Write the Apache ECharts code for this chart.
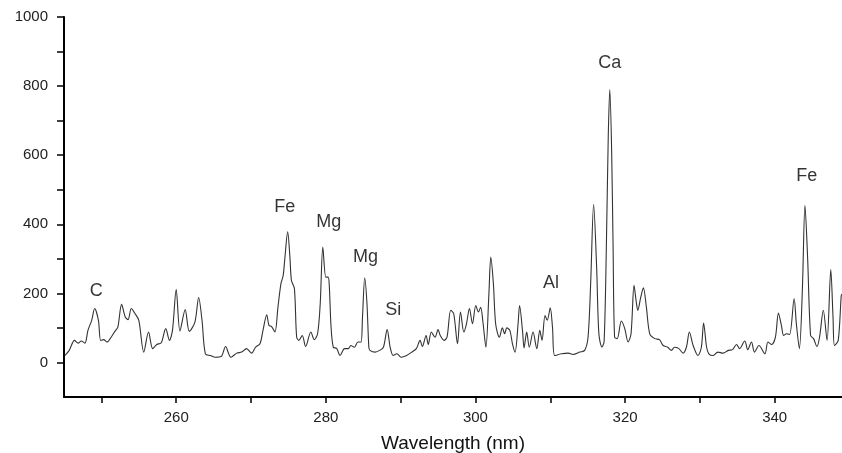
<!DOCTYPE html>
<html>
<head>
<meta charset="utf-8">
<title>Spectrum</title>
<script src="https://cdn.jsdelivr.net/npm/echarts@6/dist/echarts.min.js"></script>
<style>
  html, body { margin: 0; padding: 0; background: #fff; }
  #chart { width: 842px; height: 453px; }
</style>
</head>
<body>
<div id="chart"></div>
<script>
// wavelength (nm) and intensity
const wavelengths = [
  245.1, 245.7, 246.4, 246.9, 247.3, 247.8, 248.2, 248.7, 249.1, 249.6,
  249.9, 250.3, 250.75, 251.3, 251.9, 252.2, 252.7, 253.2, 253.56, 254.0,
  254.45, 255.0, 255.66, 256.3, 256.86, 257.4, 258.0, 258.6, 259.1, 259.5,
  260.0, 260.5, 261.2, 261.75, 262.5, 263.0, 263.45, 263.9, 264.6, 265.2,
  266.0, 266.6, 267.3, 268.1, 268.75, 269.4, 270.1, 270.6, 271.2, 271.6,
  272.1, 272.4, 272.75, 273.2, 273.6, 274.0, 274.3, 274.5, 274.9, 275.2,
  275.4, 275.8, 276.1, 276.4, 276.85, 277.3, 278.0, 278.45, 278.9, 279.25,
  279.6, 280.0, 280.3, 280.45, 280.7, 281.0, 281.45, 281.9, 282.5, 283.0,
  283.35, 283.8, 284.3, 284.7, 284.9, 285.2, 285.5, 285.75, 285.9, 286.6,
  287.2, 287.7, 288.2, 288.6, 289.0, 289.5, 290.1, 290.8, 291.5, 292.1,
  292.6, 292.9, 293.4, 293.7, 294.1, 294.6, 295.0, 295.3, 295.8, 296.2,
  296.7, 297.1, 297.6, 298.0, 298.45, 298.8, 299.2, 299.6, 300.05, 300.4,
  300.7, 301.0, 301.4, 301.8, 302.05, 302.4, 302.7, 303.2, 303.6, 303.9,
  304.2, 304.6, 304.95, 305.3, 305.7, 305.9, 306.3, 306.5, 306.85, 307.2,
  307.7, 308.2, 308.6, 308.9, 309.3, 309.6, 310.0, 310.3, 310.6, 311.5,
  312.4, 313.05, 313.95, 314.6, 315.05, 315.4, 315.8, 316.2, 316.5, 316.9,
  317.2, 317.5, 317.75, 317.96, 318.2, 318.4, 318.6, 318.95, 319.5, 319.96,
  320.4, 320.8, 321.2, 321.5, 321.7, 322.1, 322.45, 322.85, 323.3, 323.97,
  324.6, 325.1, 325.7, 326.2, 326.6, 327.2, 327.75, 328.2, 328.6, 329.1,
  329.75, 330.2, 330.5, 330.9, 331.2, 331.75, 332.4, 333.1, 333.8, 334.35,
  334.9, 335.3, 336.0, 336.4, 336.9, 337.3, 337.9, 338.7, 339.1, 339.6,
  340.1, 340.5, 340.9, 341.2, 341.6, 342.0, 342.6, 342.9, 343.3, 343.7,
  344.05, 344.4, 344.8, 345.2, 345.65, 346.0, 346.5, 347.0, 347.5, 347.8,
  348.0, 348.5, 348.9, 349.0
];
const intensity = [
  20, 35, 64, 56, 62, 56, 93, 122, 156, 122,
  64, 66, 59, 73, 93, 102, 168, 131, 124, 156,
  143, 122, 30, 88, 40, 52, 57, 98, 64, 93,
  211, 91, 153, 90, 117, 188, 122, 25, 20, 15,
  17, 46, 15, 27, 30, 40, 27, 44, 54, 93,
  138, 107, 104, 88, 160, 228, 252, 296, 378, 305,
  238, 214, 73, 64, 78, 46, 88, 66, 83, 170,
  334, 247, 247, 228, 102, 44, 41, 20, 40, 40,
  49, 44, 59, 59, 131, 245, 170, 44, 35, 30,
  35, 44, 95, 44, 20, 25, 15, 20, 30, 40,
  64, 46, 78, 52, 88, 73, 95, 78, 64, 73,
  151, 141, 54, 146, 88, 112, 156, 112, 165, 146,
  160, 117, 44, 199, 305, 228, 112, 73, 100, 83,
  100, 93, 54, 30, 112, 165, 90, 42, 88, 44,
  88, 40, 93, 64, 136, 122, 158, 102, 20, 25,
  27, 23, 30, 35, 73, 228, 458, 276, 83, 45,
  60, 334, 650, 790, 620, 334, 73, 69, 120, 98,
  59, 83, 223, 175, 151, 189, 216, 160, 83, 69,
  66, 49, 44, 35, 44, 40, 27, 44, 88, 49,
  20, 44, 114, 44, 25, 20, 30, 27, 35, 37,
  52, 40, 62, 37, 59, 30, 49, 25, 59, 52,
  73, 143, 107, 78, 83, 81, 185, 112, 40, 209,
  455, 305, 78, 69, 46, 73, 151, 64, 269, 131,
  49, 64, 194, 198
];

// element labels placed above their peaks
const peakNames = ['C', 'Fe', 'Mg', 'Mg', 'Si', 'Al', 'Ca', 'Fe'];
const peakLabelX = [249.3, 274.5, 280.4, 285.3, 289.0, 310.1, 317.96, 344.3];
const peakLabelY = [207, 449, 407, 305, 153, 230, 866, 539];

const xTicks = [250, 260, 270, 280, 290, 300, 310, 320, 330, 340];
const xTickLabels = [260, 280, 300, 320, 340];
const yTicks = [0, 100, 200, 300, 400, 500, 600, 700, 800, 900, 1000];
const yTickLabels = [0, 200, 400, 600, 800, 1000];

const chart = echarts.init(document.getElementById('chart'));

const font = 'Liberation Sans, Arial, sans-serif';

const option = {
  animation: false,
  backgroundColor: '#fff',
  grid: { left: 64, right: 0, top: 17, bottom: 56, outerBoundsMode: 'none', containLabel: false },
  xAxis: {
    type: 'value',
    min: 245,
    max: 349,
    name: 'Wavelength (nm)',
    nameLocation: 'middle',
    nameGap: 37,
    nameTextStyle: { color: '#111', fontFamily: font, fontSize: 19 },
    axisLine: { onZero: false, lineStyle: { color: '#000', width: 2 } },
    axisTick: {
      customValues: xTicks,
      length: 6,
      lineStyle: { color: '#000', width: 1.5 }
    },
    axisLabel: {
      customValues: xTickLabels,
      margin: 13,
      color: '#222',
      fontFamily: font,
      fontSize: 15,
      formatter: v => String(v)
    },
    splitLine: { show: false }
  },
  yAxis: {
    type: 'value',
    min: -100,
    max: 1000,
    axisLine: { show: true, onZero: false, lineStyle: { color: '#000', width: 2 } },
    axisTick: {
      show: true,
      customValues: yTicks,
      length: 7,
      lineStyle: { color: '#000', width: 1.5 }
    },
    axisLabel: {
      customValues: yTickLabels,
      margin: 16,
      color: '#222',
      fontFamily: font,
      fontSize: 15,
      formatter: v => String(v)
    },
    splitLine: { show: false }
  },
  series: [
    {
      name: 'Spectrum',
      type: 'line',
      data: wavelengths.map((w, i) => [w, intensity[i]]),
      showSymbol: false,
      smooth: 0.3,
      lineStyle: { color: '#333', width: 1.1 }
    },
    {
      name: 'Peaks',
      type: 'scatter',
      symbolSize: 0,
      data: peakNames.map((n, i) => ({ value: [peakLabelX[i], peakLabelY[i]], name: n })),
      label: {
        show: true,
        position: 'inside',
        formatter: p => p.name,
        color: '#000',
        fontFamily: font,
        fontSize: 18
      }
    }
  ]
};

chart.setOption(option);
window.addEventListener('resize', () => chart.resize());
</script>
</body>
</html>
